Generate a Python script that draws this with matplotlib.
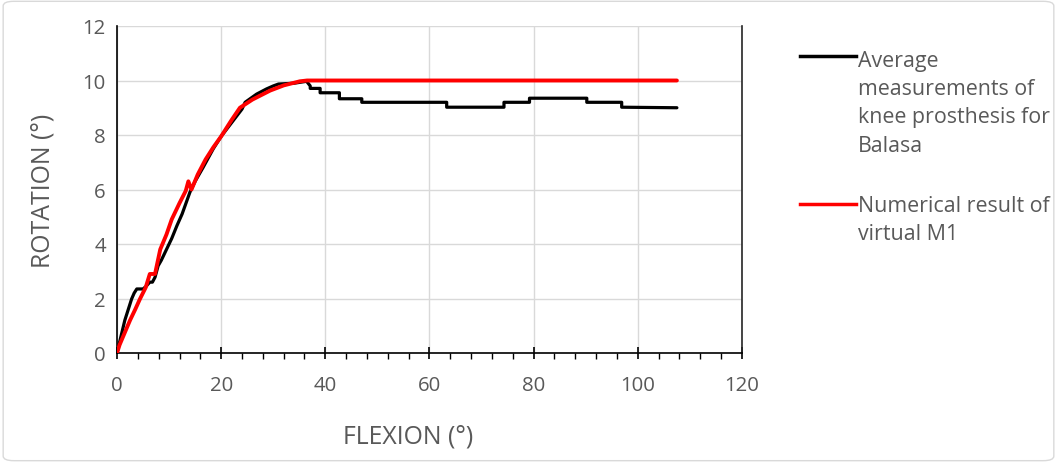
import matplotlib
matplotlib.use("Agg")
import matplotlib.pyplot as plt
from matplotlib.lines import Line2D
from matplotlib.patches import FancyBboxPatch
from matplotlib.ticker import MultipleLocator

plt.rcParams['font.family'] = ['Open Sans', 'DejaVu Sans']

# measured curve (flexion deg, rotation deg), stepped data
meas_x = [0, 0.5, 1.5, 2.8, 3.3, 3.8, 5.0, 5.6, 6.3, 6.8, 7.3, 7.9, 8.5, 9.5, 10.5,
          11.5, 12.5, 14.0, 15.0, 16.5, 18.5, 20.0, 22.0, 24.0, 24.6, 26.8, 28.7,
          30.0, 31.0, 34.0, 36.4, 37.1, 37.1, 39.0, 39.0, 42.7, 42.7, 47.0, 47.0,
          63.3, 63.3, 74.3, 74.3, 79.2, 79.2, 90.2, 90.2, 96.9, 96.9, 107.5]
meas_y = [0, 0.4, 1.2, 1.98, 2.2, 2.35, 2.35, 2.45, 2.6, 2.6, 2.78, 3.2, 3.4, 3.8, 4.2,
          4.67, 5.1, 5.9, 6.3, 6.8, 7.5, 7.95, 8.45, 8.95, 9.2, 9.5, 9.69,
          9.8, 9.87, 9.9, 9.97, 9.8, 9.71, 9.71, 9.55, 9.55, 9.33, 9.33, 9.2,
          9.2, 9.02, 9.02, 9.2, 9.2, 9.35, 9.35, 9.2, 9.2, 9.02, 9.0]

# virtual model M1 result
m1_x = [0, 0.5, 1.5, 2.5, 3.5, 4.4, 5.5, 6.3, 7.3, 8.3, 9.5, 10.5, 12.0, 13.2,
        13.7, 14.3, 15.5, 17.0, 18.5, 20.0, 22.0, 23.6, 26.0, 29.4, 32.0, 35.1,
        36.5, 107.5]
m1_y = [0, 0.3, 0.75, 1.2, 1.6, 1.98, 2.4, 2.9, 2.9, 3.8, 4.35, 4.9, 5.5, 5.95,
        6.3, 6.0, 6.55, 7.1, 7.55, 7.95, 8.55, 9.0, 9.3, 9.63, 9.82, 9.97,
        10.0, 10.0]

labels = ["Average\nmeasurements of\nknee prosthesis for\nBalasa",
          "Numerical result of\nvirtual M1"]
colors = ["#000000", "#ff0000"]

W, H = 1057, 464
fig = plt.figure(figsize=(W / 100, H / 100), dpi=100)
ax = fig.add_axes([117 / W, 110 / H, 625 / W, 327 / H])

ax.plot(meas_x, meas_y, color=colors[0], lw=2.3, solid_joinstyle='round',
        solid_capstyle='round', zorder=3)
ax.plot(m1_x, m1_y, color=colors[1], lw=2.8, solid_joinstyle='round',
        solid_capstyle='round', zorder=4)

ax.set_xlim(0, 120)
ax.set_ylim(0, 12)
ax.xaxis.set_major_locator(MultipleLocator(20))
ax.xaxis.set_minor_locator(MultipleLocator(4))
ax.yaxis.set_major_locator(MultipleLocator(2))
ax.grid(True, which='major', color='#d9d9d9', lw=1)
ax.set_axisbelow(True)
ax.spines['top'].set_visible(False)
ax.spines['right'].set_color('#262626')
ax.spines['right'].set_linewidth(1.2)
for s in ['left', 'bottom']:
    ax.spines[s].set_color('black')
    ax.spines[s].set_linewidth(1.2)
ax.tick_params(axis='x', which='major', length=8, width=1.2, direction='inout',
               labelsize=14.7, labelcolor='#595959', pad=12)
ax.tick_params(axis='x', which='minor', length=4, width=1.0, direction='out')
ax.tick_params(axis='y', which='both', length=0, right=False, labelsize=14.7,
               labelcolor='#595959', pad=8)

ax.set_xlabel("FLEXION (°)", fontsize=17.9, color='#595959', va='center')
ax.set_ylabel("ROTATION (°)", fontsize=17.9, color='#595959', va='center')
ax.xaxis.set_label_coords(0.466, -0.254)
ax.yaxis.set_label_coords(-0.118, 0.5)

# legend drawn manually (Excel style: handle aligned with first line)
leg_y = [57, 205]
txt_top = [51, 196]
for lab, c, y, t in zip(labels, colors, leg_y, txt_top):
    fig.add_artist(Line2D([800 / W, 856 / W], [1 - y / H, 1 - y / H],
                          color=c, lw=2.5, transform=fig.transFigure))
    fig.text(858 / W, 1 - t / H, lab, fontsize=15.4, color='#595959',
             va='top', ha='left', linespacing=1.45)

border = FancyBboxPatch((0.003, 0.005), 0.994, 0.99,
                        boxstyle="round,pad=0,rounding_size=0.01",
                        transform=fig.transFigure, fill=False,
                        edgecolor='#d9d9d9', lw=1)
fig.add_artist(border)

fig.savefig("out.png", dpi=100)
